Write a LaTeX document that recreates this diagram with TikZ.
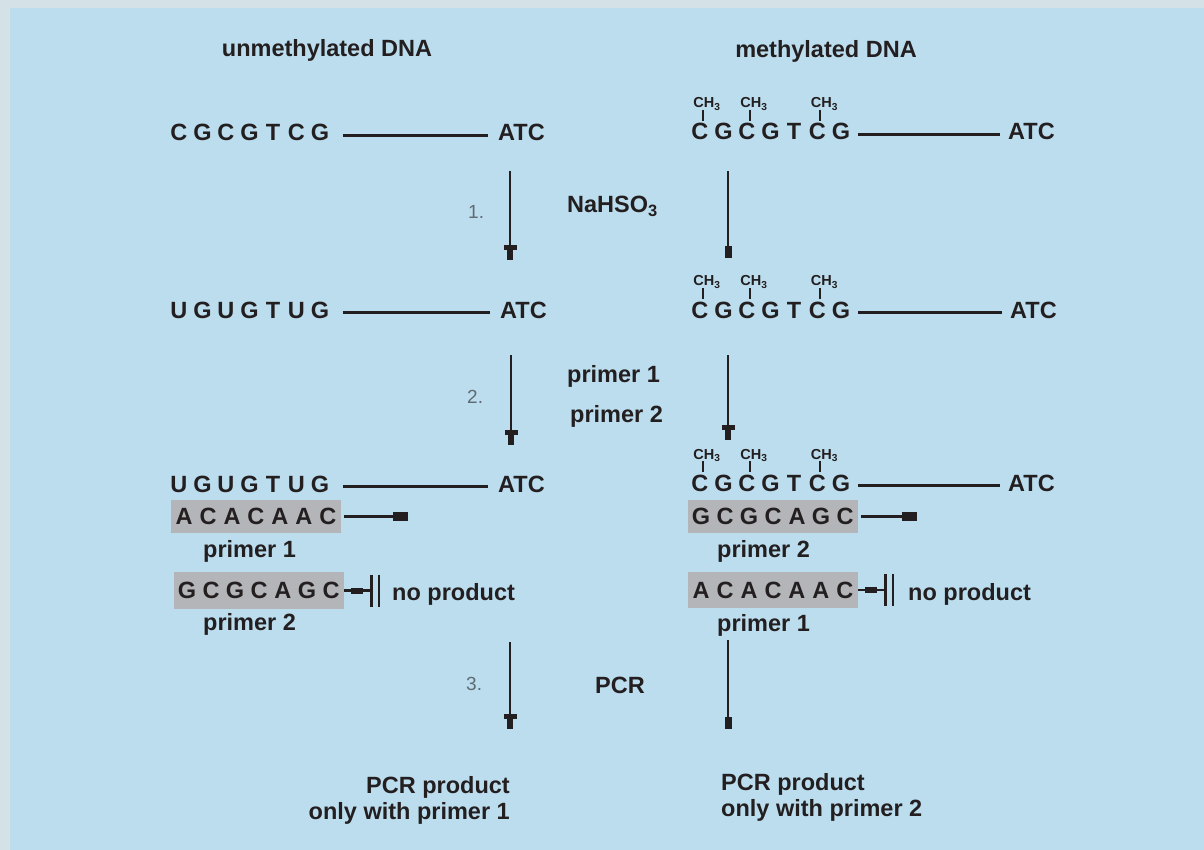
\documentclass[tikz,border=0pt]{standalone}
\usepackage{fontspec}
\setmainfont{Liberation Sans}
\usetikzlibrary{arrows.meta,calc}

\definecolor{ink}{HTML}{231F20}
\definecolor{panel}{HTML}{BCDDEE}
\definecolor{frame}{HTML}{D4E1E7}
\definecolor{primerfill}{HTML}{B4B5B8}
\definecolor{stepnum}{HTML}{5F6B73}

% evenly spaced sequence letters
\newlength\seqpitch
\setlength\seqpitch{23.5pt}
\newcommand\seqletters[1]{\seqloop#1\relax}
\def\seqloop#1{\ifx#1\relax\else\makebox[\seqpitch]{#1}\expandafter\seqloop\fi}

\tikzset{
  txt/.style={font=\fontsize{23.5}{26}\selectfont\bfseries, text=ink, inner sep=0pt},
  seqtxt/.style={txt, anchor=base west, text height=16.8pt, text depth=0pt},
  lbl/.style={txt, anchor=base west},
  stepno/.style={font=\fontsize{19}{20}\selectfont, text=stepnum, inner sep=0pt, anchor=base west},
  methlabel/.style={font=\fontsize{14.5}{15}\selectfont\bfseries, text=ink, inner sep=0pt, anchor=base west},
  tick/.style={draw=ink, line width=2pt},
  strandline/.style={draw=ink, line width=3pt},
  leftstrand/.style={strandline, shorten <=11pt, shorten >=10pt},
  rightstrand/.style={strandline, shorten <=5.5pt, shorten >=8pt},
  pbox/.style={txt, fill=primerfill, minimum width=170pt, text height=16.8pt, text depth=0pt},
  steparrowL/.style={draw=ink, line width=2.5pt,
    -{Bar[width=13pt,line width=5pt,sep=0pt] Rectangle[length=10pt,width=6pt]}},
  steparrowR/.style={draw=ink, line width=2.5pt, -{Rectangle[length=12pt,width=7pt]}},
  primerarrow/.style={draw=ink, line width=2.5pt, shorten <=3pt, -{Rectangle[length=15pt,width=9pt]}},
  blockline/.style={draw=ink, line width=2.5pt},
  blockbar/.style={draw=ink, line width=2.5pt},
}

% methyl group above letter #2 of strand #1
\newcommand\methyl[2]{%
  \node[methlabel] (#1-m#2) at ($(#1.base west)+({(#2-0.5)*23.5-6.5},-32)$) {CH\textsubscript{3}};
  \draw[tick] ($(#1.base west)+({(#2-0.5)*23.5+3},-30)$) -- ++(0,11);
}

% extension blocked: small block, line and double bar
\newcommand\blocked[2]{%
  \fill[ink] ($(#1.east)+(7,-3)$) rectangle ++(12,6);
  \draw[blockline] (#1.east) -- (#2);
  \draw[blockbar] ($(#2)+(1.5,-16)$) -- ++(0,32);
  \draw[blockbar] ($(#2)+(9,-16)$) -- ++(0,32);
}

\begin{document}
\begin{tikzpicture}[x=1pt,y=-1pt]
  \useasboundingbox (0,0) rectangle (1204,850);
  \fill[frame] (0,0) rectangle (1204,850);
  \fill[panel] (10,8) rectangle (1204,850);

  % column headings
  \node[txt, anchor=base] (hu) at (327,57) {unmethylated DNA};
  \node[txt, anchor=base] (hm) at (826,58) {methylated DNA};

  % starting strands
  \node[seqtxt] (u1) at (167,141) {\seqletters{CGCGTCG}};
  \node[seqtxt] (a1) at (498,141) {ATC};
  \draw[leftstrand] ([yshift=-2.5pt]u1.east) -- ([yshift=-2.5pt]a1.west);

  \node[seqtxt] (m1) at (688,140) {\seqletters{CGCGTCG}};
  \node[seqtxt] (ma1) at (1008,140) {ATC};
  \draw[rightstrand] ([yshift=-2.5pt]m1.east) -- ([yshift=-2.5pt]ma1.west);
  \methyl{m1}{1}\methyl{m1}{3}\methyl{m1}{6}

  % step 1: bisulfite
  \node[stepno] (n1) at (468,219) {1.};
  \node[lbl] (bis) at (567,213) {NaHSO\textsubscript{3}};
  \coordinate (l1a) at (510,171); \coordinate (l1b) at (510,260);
  \coordinate (r1a) at (728,171); \coordinate (r1b) at (728,258);
  \draw[steparrowL] (l1a) -- (l1b);
  \draw[steparrowR] (r1a) -- (r1b);

  % converted strands
  \node[seqtxt] (u2) at (167,318) {\seqletters{UGUGTUG}};
  \node[seqtxt] (a2) at (500,318) {ATC};
  \draw[leftstrand] ([yshift=-2.5pt]u2.east) -- ([yshift=-2.5pt]a2.west);

  \node[seqtxt] (m2) at (688,318) {\seqletters{CGCGTCG}};
  \node[seqtxt] (ma2) at (1010,318) {ATC};
  \draw[rightstrand] ([yshift=-2.5pt]m2.east) -- ([yshift=-2.5pt]ma2.west);
  \methyl{m2}{1}\methyl{m2}{3}\methyl{m2}{6}

  % step 2: primers
  \node[stepno] (n2) at (467,403) {2.};
  \node[lbl] (p1mid) at (567,382) {primer 1};
  \node[lbl] (p2mid) at (570,422) {primer 2};
  \coordinate (l2a) at (511,355); \coordinate (l2b) at (511,445);
  \coordinate (r2a) at (728,355); \coordinate (r2b) at (728,440);
  \draw[steparrowL] (l2a) -- (l2b);
  \draw[steparrowL] (r2a) -- (r2b);

  % strands with primers
  \node[seqtxt] (u3) at (167,492) {\seqletters{UGUGTUG}};
  \node[seqtxt] (a3) at (498,492) {ATC};
  \draw[leftstrand] ([yshift=-2.5pt]u3.east) -- ([yshift=-2.5pt]a3.west);

  \node[seqtxt] (m3) at (688,491) {\seqletters{CGCGTCG}};
  \node[seqtxt] (ma3) at (1008,491) {ATC};
  \draw[rightstrand] ([yshift=-2.5pt]m3.east) -- ([yshift=-2.5pt]ma3.west);
  \methyl{m3}{1}\methyl{m3}{3}\methyl{m3}{6}

  % unmethylated side primers
  \node[pbox, minimum height=33pt] (pl1) at (256,516.5) {\setlength\seqpitch{24pt}\seqletters{ACACAAC}};
  \node[lbl] (pl1n) at (203,557) {primer 1};
  \coordinate (pl1end) at (408,516.5);
  \draw[primerarrow] (pl1) -- (pl1end);

  \node[pbox, minimum height=37pt] (pl2) at (259,590.5) {\setlength\seqpitch{24pt}\seqletters{GCGCAGC}};
  \node[lbl] (pl2n) at (203,630) {primer 2};
  \coordinate (pl2stop) at (370,590.5);
  \blocked{pl2}{pl2stop}
  \node[lbl] (npl) at (392,600) {no product};

  % methylated side primers
  \node[pbox, minimum height=33pt] (pr1) at (773,516.5) {\setlength\seqpitch{24pt}\seqletters{GCGCAGC}};
  \node[lbl] (pr1n) at (717,557) {primer 2};
  \coordinate (pr1end) at (917,516.5);
  \draw[primerarrow] (pr1) -- (pr1end);

  \node[pbox, minimum height=36pt] (pr2) at (773,590) {\setlength\seqpitch{24pt}\seqletters{ACACAAC}};
  \node[lbl] (pr2n) at (717,631) {primer 1};
  \coordinate (pr2stop) at (884,590);
  \blocked{pr2}{pr2stop}
  \node[lbl] (npr) at (908,600) {no product};

  % step 3: PCR
  \node[stepno] (n3) at (466,690) {3.};
  \node[lbl] (pcr) at (595,693) {PCR};
  \coordinate (l3a) at (510,642); \coordinate (l3b) at (510,729);
  \coordinate (r3a) at (728,640); \coordinate (r3b) at (728,729);
  \draw[steparrowL] (l3a) -- (l3b);
  \draw[steparrowR] (r3a) -- (r3b);

  % outcomes
  \node[txt, align=right, anchor=north east] (outl) at (510,776) {PCR product\\only with primer 1};
  \node[txt, align=left, anchor=north west] (outr) at (721,773) {PCR product\\only with primer 2};
\end{tikzpicture}
\end{document}
